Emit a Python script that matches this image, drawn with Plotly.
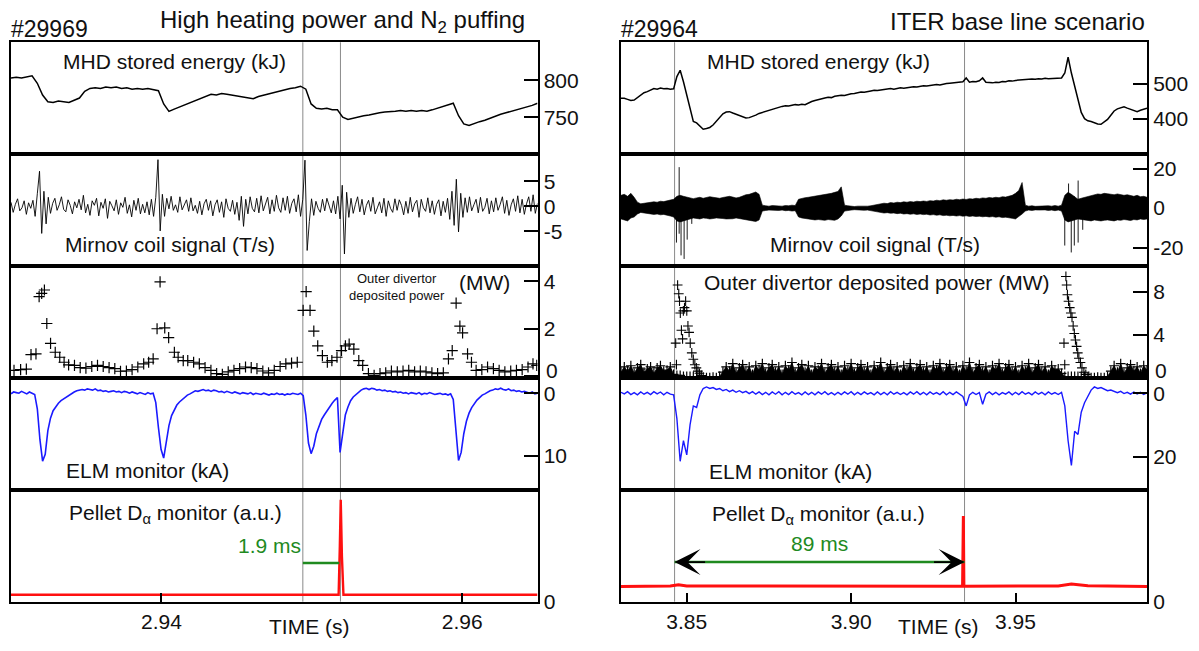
import numpy as np
import plotly.graph_objects as go

W, H = 1199, 651
FONT = "Liberation Sans, Arial, sans-serif"
GREEN = "#1f8a1f"
BLUE = "#1a1aff"
RED = "#ff1010"

# ---------------- data : shot #29969 (left) ----------------
left_range = [2.930, 2.965]
left_marks = [2.9494, 2.9519]          # ELM-triggering / pellet times
left_ticks = [2.94, 2.96]

# MHD stored energy (kJ), sampled every 0.35 ms from 2.930 s
l_wmhd = [803, 804, 803, 805, 806, 796, 780, 771, 770, 772,
          771, 770, 773, 776, 785, 789, 790, 789, 791, 790,
          791, 789, 790, 788, 789, 788, 789, 787, 786, 768,
          758, 761, 764, 766, 769, 772, 775, 778, 781, 780,
          782, 781, 780, 779, 777, 776, 775, 778, 780, 782,
          783, 786, 787, 789, 790, 792, 788, 768, 762, 761,
          762, 760, 760, 750, 747, 749, 751, 752, 753, 755,
          756, 757, 757, 758, 759, 758, 759, 758, 759, 758,
          760, 762, 764, 767, 769, 752, 741, 739, 742, 744,
          746, 749, 751, 754, 756, 758, 760, 761, 763, 766,
          769]

# Mirnov coil signal (T/s), sampled every 0.146 ms
l_mirnov = [0.8, -1.2, 0.4, 1.5, -0.9, -0.3, 1.1, -1.6, 0.7, -0.4,
            1.2, -2.0, 2.5, 7.0, -5.4, 3.0, -3.5, 1.8, -1.4, 0.6,
            1.6, -0.8, 0.3, 1.9, -0.6, -1.1, 1.3, 0.2, -1.5, 0.9,
            -0.3, 1.4, -0.7, 2.2, -1.3, 0.4, -1.8, 1.1, 0.2, 1.6,
            -1.9, 0.8, -0.4, 1.5, -2.4, 1.0, 0.1, -0.9, 1.3, -1.6,
            0.7, -0.2, 1.8, -1.4, 0.3, -2.1, 1.2, -0.8, 1.6, -1.5,
            0.4, -1.3, 0.9, -1.7, 1.4, -2.0, 1.8, 9.3, -4.9, 2.4,
            -2.0, 1.6, -0.5, 2.0, -0.8, 0.3, -1.2, 1.9, -0.7, 0.5,
            1.3, -1.0, 1.7, -0.9, 0.2, -1.4, 1.0, -1.7, 0.5, 1.4,
            -0.8, 1.1, -1.9, 0.3, 1.3, -1.2, 0.9, -2.2, 1.5, -0.4,
            -1.0, 1.2, -1.6, 0.8, -2.8, 2.0, -4.0, 1.4, -1.5, 1.9,
            -0.4, -1.1, 1.6, -1.3, 2.1, -0.9, 0.5, 1.8, -1.5, 1.3,
            -1.0, 2.2, -0.3, -1.2, 1.7, -0.8, 2.0, -1.4, 0.6, 1.5,
            -1.1, 2.3, -2.0, 1.4, 9.2, -8.8, -3.0, 1.5, -1.8, 1.0,
            -0.4, -1.2, 1.4, -0.9, 1.6, 0.3, -1.3, 1.1, -1.5, 2.0,
            -2.5, 4.2, -9.5, 2.8, -2.2, 1.6, -1.4, 0.4, 1.9, -1.1,
            1.4, -1.7, 0.2, 1.2, -1.0, 1.8, -1.5, -0.3, 0.9, -1.3,
            1.6, -2.0, 1.1, -0.4, -1.2, 1.5, -0.8, 1.3, 0.2, -1.7,
            1.0, -1.4, 1.8, -1.1, 0.5, 1.2, -2.2, 1.4, -0.3, -1.0,
            1.7, -1.3, 1.1, -1.6, 0.4, 1.3, -1.9, 1.0, -1.2, 1.6,
            -2.6, 3.0, -3.8, 5.4, -5.1, 2.6, -2.2, 1.7, -1.2, 1.9,
            -0.9, 0.3, 1.4, -1.3, 1.8, -1.0, -0.2, 1.6, -1.5, 1.1,
            -1.1, 1.7, -0.8, 0.4, 1.9, -1.4, 1.2, -1.8, 0.3, 1.5,
            -1.0, 2.1, -1.3, 1.4, -1.6, 0.5, 1.9, -1.0, 2.3, -1.4, 0.6]

# Outer divertor deposited power (MW): (time s, value)
l_power = [(2.93020, 0.25), (2.93064, 0.28), (2.93102, 0.30), (2.93133, 0.91),
           (2.93166, 0.94), (2.93187, 3.35), (2.93204, 3.49), (2.93222, 3.63),
           (2.93238, 2.22), (2.93263, 1.38), (2.93294, 1.01), (2.93324, 0.80),
           (2.93353, 0.59), (2.93383, 0.48), (2.93422, 0.46), (2.93460, 0.36),
           (2.93498, 0.34), (2.93537, 0.41), (2.93575, 0.46), (2.93613, 0.41),
           (2.93652, 0.36), (2.93690, 0.32), (2.93728, 0.21), (2.93767, 0.22),
           (2.93805, 0.28), (2.93843, 0.39), (2.93882, 0.52), (2.93915, 0.59),
           (2.93945, 0.73), (2.93971, 2.00), (2.93991, 3.97), (2.94022, 2.04),
           (2.94048, 1.63), (2.94086, 1.01), (2.94111, 0.80), (2.94145, 0.66),
           (2.94175, 0.66), (2.94214, 0.59), (2.94252, 0.52), (2.94290, 0.36),
           (2.94329, 0.25), (2.94367, 0.11), (2.94405, 0.08), (2.94444, 0.18),
           (2.94482, 0.25), (2.94520, 0.32), (2.94559, 0.39), (2.94597, 0.36),
           (2.94635, 0.32), (2.94674, 0.22), (2.94712, 0.14), (2.94750, 0.25),
           (2.94789, 0.41), (2.94827, 0.52), (2.94865, 0.55), (2.94903, 0.59),
           (2.94942, 2.77), (2.94962, 3.56), (2.94988, 2.77), (2.95013, 1.90),
           (2.95039, 1.28), (2.95070, 0.87), (2.95103, 0.59), (2.95133, 0.66),
           (2.95167, 0.80), (2.95197, 1.08), (2.95223, 1.28), (2.95248, 1.35),
           (2.95279, 1.14), (2.95312, 0.66), (2.95338, 0.46), (2.95376, 0.11),
           (2.95414, 0.04), (2.95453, 0.11), (2.95491, 0.14), (2.95529, 0.22),
           (2.95568, 0.18), (2.95606, 0.22), (2.95644, 0.25), (2.95683, 0.18),
           (2.95721, 0.22), (2.95759, 0.18), (2.95798, 0.14), (2.95836, 0.11),
           (2.95874, 0.14), (2.95908, 0.73), (2.95933, 1.08), (2.95959, 3.08),
           (2.95984, 2.11), (2.96002, 1.83), (2.96035, 0.94), (2.96061, 0.59),
           (2.96092, 0.25), (2.96130, 0.28), (2.96168, 0.39), (2.96207, 0.32),
           (2.96245, 0.25), (2.96283, 0.18), (2.96322, 0.22), (2.96360, 0.25),
           (2.96398, 0.28), (2.96437, 0.39), (2.96470, 0.52), (2.96495, 0.46)]

# ELM monitor (kA), sampled every 0.175 ms
l_elm = [0.1, -0.2, -0.1, 0.0, -0.3, -0.1, 0.1, -0.2, 0.0, 0.2,
         2.5, 7.5, 10.9, 9.8, 6.0, 4.0, 2.8, 2.1, 1.6, 1.2,
         0.9, 0.6, 0.3, 0.1, -0.2, -0.4, -0.5, -0.6, -0.5, -0.7,
         -0.6, -0.5, -0.7, -0.4, -0.5, -0.3, -0.4, -0.2, -0.3, -0.4,
         -0.2, -0.3, -0.1, -0.3, -0.2, 0.0, -0.2, -0.1, 0.1, -0.1,
         0.0, 0.2, -0.1, 0.1, 0.0, 1.5, 5.5, 9.0, 10.4, 8.0,
         5.2, 3.6, 2.6, 1.9, 1.4, 1.0, 0.6, 0.3, 0.1, -0.2,
         -0.4, -0.3, -0.5, -0.6, -0.4, -0.5, -0.3, -0.5, -0.4, -0.2,
         -0.3, -0.1, -0.3, -0.2, 0.0, -0.2, -0.1, 0.1, -0.1, 0.0,
         0.1, -0.1, 0.2, 0.0, 0.1, 0.2, 0.0, 0.1, 0.3, 0.1,
         0.2, 0.0, 0.2, 0.1, 0.3, 0.1, 0.2, 0.0, 0.1, 0.2,
         0.0, 0.4, 3.5, 8.0, 9.7, 8.5, 6.5, 5.2, 4.2, 3.5,
         2.8, 2.2, 1.6, 1.1, 0.7, 9.5, 6.5, 3.5, 2.2, 1.2,
         0.6, 0.2, -0.2, -0.5, -0.7, -0.8, -0.6, -0.8, -0.7, -0.5,
         -0.6, -0.4, -0.5, -0.3, -0.4, -0.2, -0.3, -0.1, -0.2, 0.0,
         -0.1, 0.1, -0.1, 0.0, 0.1, -0.1, 0.2, 0.0, 0.1, -0.1,
         0.0, 0.2, 0.1, 0.0, 0.2, 0.1, 0.3, 0.1, 1.0, 6.0,
         10.8, 9.5, 6.5, 4.5, 3.2, 2.3, 1.6, 1.1, 0.7, 0.3,
         0.1, -0.2, -0.4, -0.5, -0.7, -0.6, -0.8, -0.6, -0.5, -0.7,
         -0.4, -0.5, -0.3, -0.4, -0.2, -0.3, -0.1, 0.0, -0.2, 0.1, 0.0]

# Pellet D-alpha monitor (a.u.)
l_pellet_t = [2.930, 2.95178, 2.95186, 2.95192, 2.95200, 2.95210, 2.965]
l_pellet_v = [0.062, 0.062, 0.50, 0.91, 0.40, 0.062, 0.062]
l_gap = [2.9494, 2.95182]     # 1.9 ms delay bar
l_gap_level = 0.345

# ---------------- data : shot #29964 (right) ----------------
right_range = [3.83, 3.99]
right_marks = [3.8463, 3.9345]
right_ticks = [3.85, 3.90, 3.95]

# MHD stored energy (kJ), every 1 ms from 3.830 s
r_wmhd = [458, 458, 455, 452, 453, 460, 468, 474, 477, 482,
          486, 484, 487, 485, 486, 484, 485, 520, 538, 505,
          465, 430, 392, 388, 378, 370, 372, 375, 382, 392,
          405, 414, 419, 420, 416, 412, 410, 405, 402, 403,
          406, 410, 415, 418, 420, 424, 428, 430, 433, 435,
          437, 436, 438, 440, 439, 441, 440, 445, 449, 452,
          455, 457, 459, 461, 460, 464, 466, 467, 466, 469,
          471, 472, 474, 476, 475, 478, 479, 481, 480, 482,
          484, 485, 486, 484, 487, 488, 487, 489, 490, 491,
          490, 492, 494, 493, 495, 496, 497, 496, 499, 500,
          501, 502, 504, 503, 505, 516, 504, 506, 505, 508,
          516, 504, 503, 502, 504, 503, 506, 505, 508, 507,
          509, 510, 509, 512, 511, 513, 512, 514, 513, 515,
          514, 515, 514, 515, 516, 530, 575, 530, 490, 455,
          418, 400, 394, 392, 388, 385, 384, 390, 398, 410,
          422, 428, 432, 434, 430, 426, 422, 420, 424, 427,
          430]

# Mirnov signal envelope (T/s), every 1 ms
r_mir_up = [6.5, 7.0, 6.0, 7.5, 5.5, 3.0, 2.2, 2.5, 2.8, 3.0,
            3.2, 3.0, 3.5, 3.3, 3.8, 4.0, 4.5, 6.0, 6.5, 6.0,
            5.5, 5.0, 4.8, 5.2, 5.5, 5.0, 5.3, 5.8, 5.5, 5.2,
            5.0, 5.4, 5.8, 6.0, 5.6, 5.2, 5.5, 6.2, 6.8, 7.0,
            7.5, 8.2, 7.0, 1.5, 1.2, 1.0, 1.3, 1.1, 1.2, 1.0,
            1.3, 1.2, 1.5, 1.3, 4.5, 5.0, 5.3, 5.5, 5.8, 6.0,
            6.2, 6.5, 6.8, 7.0, 7.5, 8.0, 8.5, 10.8, 1.5, 1.2,
            1.0, 0.8, 1.0, 0.9, 1.1, 1.0, 1.2, 1.5, 2.0, 2.2,
            2.5, 2.3, 2.8, 2.6, 3.0, 2.8, 3.2, 3.0, 3.3, 3.1,
            3.5, 3.3, 3.6, 3.4, 3.8, 3.6, 4.0, 3.8, 4.2, 4.0,
            4.3, 4.1, 4.5, 4.3, 4.6, 4.4, 4.8, 4.6, 5.0, 4.8,
            5.2, 5.0, 5.4, 5.2, 5.5, 5.3, 5.8, 5.6, 6.0, 6.5,
            7.5, 9.0, 13.0, 1.5, 1.0, 1.2, 0.9, 1.0, 1.1, 0.9,
            1.2, 1.0, 1.3, 1.0, 1.5, 6.5, 8.0, 7.0, 5.5, 4.5,
            5.0, 5.5, 6.0, 6.5, 7.0, 7.2, 7.0, 7.5, 7.3, 7.0,
            6.8, 7.2, 7.0, 6.5, 6.8, 6.2, 6.0, 6.5, 5.8, 6.0,
            5.5]
r_mir_lo = [-5.5, -6.0, -6.5, -5.0, -4.5, -3.0, -2.2, -2.5, -2.8, -3.0,
            -3.2, -3.0, -3.4, -3.2, -3.6, -4.0, -4.5, -6.5, -7.0, -6.5,
            -6.0, -5.5, -5.0, -5.2, -5.5, -5.0, -5.2, -5.5, -5.3, -5.0,
            -5.0, -5.3, -5.5, -5.6, -5.4, -5.0, -5.3, -5.8, -6.0, -6.2,
            -6.5, -6.8, -6.0, -1.5, -1.2, -1.0, -1.3, -1.1, -1.2, -1.0,
            -1.3, -1.2, -1.5, -1.3, -4.5, -5.0, -5.3, -5.5, -5.8, -6.0,
            -5.8, -6.0, -6.2, -5.8, -6.0, -6.2, -5.5, -4.0, -1.5, -1.2,
            -1.0, -0.8, -1.0, -0.9, -1.1, -1.0, -1.2, -1.5, -2.0, -2.2,
            -2.5, -2.3, -2.6, -2.5, -2.8, -2.6, -3.0, -2.8, -3.1, -2.9,
            -3.2, -3.0, -3.3, -3.1, -3.5, -3.3, -3.6, -3.4, -3.8, -3.6,
            -3.9, -3.7, -4.0, -3.8, -4.1, -3.9, -4.2, -4.0, -4.3, -4.1,
            -4.4, -4.2, -4.5, -4.3, -4.6, -4.4, -4.8, -4.6, -5.0, -5.2,
            -5.5, -4.5, -3.0, -1.5, -1.0, -1.2, -0.9, -1.0, -1.1, -0.9,
            -1.2, -1.0, -1.3, -1.0, -1.5, -6.0, -7.0, -6.5, -6.0, -5.5,
            -5.5, -6.0, -6.2, -6.5, -6.0, -6.3, -6.5, -6.2, -6.0, -6.3,
            -6.5, -6.0, -6.2, -5.8, -6.0, -6.3, -5.8, -6.0, -5.5, -5.8,
            -5.5]
# individual Mirnov spikes: (time, top, bottom)
r_mir_spikes = [(3.84687, 3.0, -17.5), (3.84769, 20.8, -13.0), (3.84827, 4.0, -24.0),
                (3.84920, 3.0, -25.8), (3.85013, 3.0, -16.0), (3.85153, 3.0, -8.0),
                (3.96498, 4.0, -19.0), (3.96614, 12.5, -5.0), (3.96696, 5.0, -22.5),
                (3.96789, 6.0, -19.0), (3.96905, 14.0, -17.5), (3.97045, 4.0, -11.0)]

# Outer divertor deposited power (MW), every 1 ms
r_power = [0.5, 1.0, 0.6, 1.1, 0.4, 0.9, 1.2, 0.5, 0.8, 1.0,
           0.4, 0.9, 1.1, 0.6, 0.7, 1.0, 0.3, 0.2, 0.2, 0.1,
           0.1, 0.1, 0.1, 0.1, 0.1, 0.05, 0.0, 0.0, 0.05, 0.0,
           0.1, 0.5, 1.0, 0.6, 1.3, 0.4, 0.9, 1.2, 0.5, 1.0,
           0.3, 1.1, 0.7, 1.3, 0.4, 0.9, 1.2, 0.5, 1.0, 0.3,
           1.1, 0.7, 1.4, 0.4, 0.9, 1.2, 0.5, 1.1, 0.3, 1.0,
           0.7, 1.3, 0.4, 0.9, 1.2, 0.5, 1.0, 0.3, 1.1, 0.6,
           1.3, 0.4, 0.9, 1.2, 0.5, 1.0, 0.3, 1.1, 0.7, 1.4,
           0.4, 0.9, 1.2, 0.5, 1.0, 0.3, 1.1, 0.6, 1.3, 0.4,
           0.9, 1.2, 0.5, 1.0, 0.3, 1.1, 0.7, 1.3, 0.4, 0.9,
           1.2, 0.5, 1.0, 0.3, 1.1, 0.6, 1.4, 0.4, 0.9, 1.2,
           0.5, 1.0, 0.3, 1.1, 0.7, 1.3, 0.4, 0.9, 1.2, 0.5,
           1.0, 0.3, 1.1, 0.6, 1.3, 0.4, 0.9, 1.2, 0.5, 1.0,
           0.3, 1.1, 0.7, 0.8, 0.4, 0.1, 0.1, 0.1, 0.1, 0.1,
           0.1, 0.1, 0.05, 0.0, 0.0, 0.05, 0.0, 0.0, 0.1, 0.6,
           1.1, 0.5, 1.3, 0.4, 0.9, 1.2, 0.6, 1.0, 0.4, 1.1,
           0.7]
# power bursts after the large ELMs: (time, value)
r_power_burst = [(3.84664, 3.2), (3.84687, 1.2), (3.84722, 8.6), (3.84757, 7.8),
                 (3.84780, 7.1), (3.84804, 6.0), (3.84838, 4.4), (3.84873, 3.6),
                 (3.84897, 6.2), (3.84932, 6.5), (3.84966, 7.1), (3.85001, 6.2),
                 (3.85036, 4.8), (3.85071, 4.2), (3.85106, 3.2), (3.85153, 2.3),
                 (3.85199, 1.7), (3.85246, 1.2), (3.85292, 0.9), (3.85339, 0.6),
                 (3.85385, 0.4), (3.85444, 0.2),
                 (3.96475, 3.2), (3.96498, 1.2), (3.96533, 9.4), (3.96556, 8.6),
                 (3.96579, 7.7), (3.96614, 7.1), (3.96649, 6.5), (3.96684, 6.0),
                 (3.96719, 5.6), (3.96754, 4.8), (3.96789, 4.1), (3.96824, 3.5),
                 (3.96859, 2.9), (3.96893, 2.3), (3.96928, 1.8), (3.96975, 1.4),
                 (3.97021, 0.9), (3.97080, 0.5), (3.97138, 0.3), (3.97231, 0.1)]

# ELM monitor (kA), every 1 ms
r_elm = [-0.3, 0.2, -0.5, 0.4, -0.2, 0.5, -0.4, 0.3, -0.3, 0.4,
         -0.5, 0.2, -0.4, 0.5, -0.3, 0.3, 0.5, 8.0, 21.5, 15.0,
         19.5, 10.0, 4.0, 4.5, 0.5, -1.5, -2.0, -1.5, -1.8, -1.2,
         -1.5, -0.8, -1.2, -0.5, -1.0, -0.3, -0.8, -0.2, -0.6, 0.1,
         -0.5, 0.3, -0.4, 0.4, -0.3, 0.5, -0.4, 0.3, -0.5, 0.5,
         -0.3, 0.4, -0.5, 0.3, -0.2, 0.5, -0.4, 0.4, -0.3, 0.5,
         -0.4, 0.3, -0.5, 0.4, -0.2, 0.5, -0.3, 0.4, -0.4, 0.3,
         -0.5, 0.5, -0.3, 0.4, -0.4, 0.3, -0.2, 0.5, -0.4, 0.4,
         -0.3, 0.5, -0.5, 0.3, -0.3, 0.4, -0.2, 0.5, -0.4, 0.3,
         -0.5, 0.4, -0.3, 0.5, -0.4, 0.3, -0.2, 0.4, -0.5, 0.5,
         -0.3, 0.4, -0.4, 0.3, 1.0, 4.0, 0.5, -0.3, 0.4, -0.2,
         3.5, 0.3, -0.4, 0.4, -0.3, 0.5, -0.2, 0.3, -0.4, 0.5,
         -0.3, 0.4, -0.5, 0.3, -0.2, 0.5, -0.4, 0.3, -0.3, 0.5,
         -0.4, 0.3, -0.2, 0.4, -0.3, 4.0, 15.0, 22.8, 12.0, 13.0,
         6.0, 3.0, 0.8, -1.0, -2.0, -1.5, -1.8, -1.2, -0.8, -1.0,
         -0.5, -0.2, -0.6, 0.1, -0.3, 0.3, -0.4, 0.2, -0.3, 0.4,
         -0.2]

r_pellet_t = [3.830, 3.845, 3.8475, 3.850, 3.9339, 3.93414, 3.9343, 3.963, 3.967, 3.972, 3.990]
r_pellet_v = [0.135, 0.140, 0.152, 0.140, 0.138, 0.765, 0.138, 0.140, 0.158, 0.142, 0.136]
r_gap = [3.8463, 3.9345]      # 89 ms
r_gap_level = 0.354

# axis ranges / ticks
y_ranges = [
    [[700, 851.5], [-11.9, 10.4], [-0.07, 4.64], [15.5, -2.46], [0, 1]],
    [[299, 617.6], [-29.4, 27.4], [-0.03, 10.37], [30.5, -4.85], [0, 1]],
]
y_ticks = [
    [[750, 800], [-5, 0, 5], [0, 2, 4], [0, 10], [0]],
    [[400, 500], [-20, 0, 20], [0, 4, 8], [0, 20], [0]],
]

# ---------------- figure ----------------
l_t_wmhd = np.linspace(left_range[0], left_range[1], len(l_wmhd))
l_t_mir = np.linspace(left_range[0], left_range[1], len(l_mirnov))
l_t_elm = np.linspace(left_range[0], left_range[1], len(l_elm))
r_t = np.linspace(right_range[0], right_range[1], len(r_wmhd))

def ax(n, kind):
    return kind if n == 1 else f"{kind}{n}"

fig = go.Figure()

def add(n, **kw):
    fig.add_trace(go.Scatter(xaxis=ax(n, "x"), yaxis=ax(n, "y"), showlegend=False,
                             hoverinfo="skip", **kw))

# left column
add(1, x=l_t_wmhd, y=l_wmhd, mode="lines", line=dict(color="black", width=1.5))
add(2, x=l_t_mir, y=l_mirnov, mode="lines", line=dict(color="black", width=0.9))
add(3, x=[p[0] for p in l_power], y=[p[1] for p in l_power], mode="markers",
    marker=dict(symbol="cross-thin", size=8, line=dict(color="black", width=1.2)))
add(4, x=l_t_elm, y=l_elm, mode="lines", line=dict(color=BLUE, width=1.6))
add(5, x=l_pellet_t, y=l_pellet_v, mode="lines", line=dict(color=RED, width=2.4))

# right column
add(6, x=r_t, y=r_wmhd, mode="lines", line=dict(color="black", width=1.5))
add(7, x=list(r_t) + list(r_t[::-1]), y=r_mir_up + r_mir_lo[::-1], mode="lines",
    fill="toself", fillcolor="black", line=dict(color="black", width=0.6))
sx, sy = [], []
for t, top, bot in r_mir_spikes:
    sx += [t, t, None]
    sy += [top, bot, None]
add(7, x=sx, y=sy, mode="lines", line=dict(color="black", width=0.9))
add(8, x=r_t, y=r_power, mode="lines", fill="tozeroy", fillcolor="black",
    line=dict(color="black", width=0.8))
add(8, x=r_t, y=r_power, mode="markers",
    marker=dict(symbol="cross-thin", size=7, line=dict(color="black", width=1.2)))
add(8, x=[p[0] for p in r_power_burst], y=[p[1] for p in r_power_burst], mode="markers",
    marker=dict(symbol="cross-thin", size=7, line=dict(color="black", width=1.1)))
add(9, x=r_t, y=r_elm, mode="lines", line=dict(color=BLUE, width=1.4))
add(10, x=r_pellet_t, y=r_pellet_v, mode="lines", line=dict(color=RED, width=3))

# layout / axes
col_dom = [[11 / W, 537.5 / W], [621 / W, 1147 / W]]
row_px = [43, 156.8, 270.6, 384.4, 498.2, 612]
row_dom = [[1 - row_px[p + 1] / H, 1 - row_px[p] / H] for p in range(5)]
x_ranges = [left_range, right_range]
x_ticks = [left_ticks, right_ticks]

layout = dict(width=W, height=H, margin=dict(l=0, r=0, t=0, b=0),
              paper_bgcolor="white", plot_bgcolor="rgba(0,0,0,0)",
              font=dict(family=FONT, size=20, color="#111"), showlegend=False)
for c in range(2):
    for p in range(5):
        n = c * 5 + p + 1
        bottom = (p == 4)
        layout[ax(n, "xaxis")] = dict(
            domain=col_dom[c], range=x_ranges[c], anchor=ax(n, "y"),
            showline=True, mirror=True, linecolor="black", linewidth=2,
            showgrid=False, zeroline=False,
            ticks="inside" if bottom else "", ticklen=9, tickwidth=2, tickcolor="black",
            showticklabels=bottom, tickvals=x_ticks[c],
            ticktext=[f"{v:.2f}" for v in x_ticks[c]], tickfont=dict(size=21))
        tv = y_ticks[c][p]
        # the zero label of the power panel is placed separately (see below)
        tt = ["" if (p == 2 and v == 0) else str(v) for v in tv]
        layout[ax(n, "yaxis")] = dict(
            domain=row_dom[p], range=y_ranges[c][p], anchor=ax(n, "x"), side="right",
            showline=True, mirror=True, linecolor="black", linewidth=2,
            showgrid=False, zeroline=False, ticks="inside",
            ticklen=0 if p == 4 else 14, tickwidth=2, tickcolor="black",
            tickvals=tv, ticktext=tt, tickfont=dict(size=21))
fig.update_layout(**layout)

# vertical event lines
for xr, marks in (("x", left_marks), ("x6", right_marks)):
    for m in marks:
        fig.add_shape(type="line", xref=xr, yref="paper", x0=m, x1=m,
                      y0=1 - 612 / H, y1=1 - 43 / H, layer="below",
                      line=dict(color="#8a8a8a", width=1))

# delay bars
fig.add_shape(type="line", xref="x5", yref="y5", x0=l_gap[0], x1=l_gap[1],
              y0=l_gap_level, y1=l_gap_level, line=dict(color=GREEN, width=2.5))
fig.add_shape(type="line", xref="x10", yref="y10", x0=r_gap[0], x1=r_gap[1],
              y0=r_gap_level, y1=r_gap_level, line=dict(color=GREEN, width=2.5))

ann = []
for tip, off in ((r_gap[1], -32), (r_gap[0], 32)):
    ann.append(dict(x=tip, y=r_gap_level, xref="x10", yref="y10", ax=off, ay=0,
                    showarrow=True, arrowhead=3, arrowsize=2.4, arrowwidth=1.8,
                    arrowcolor="black", text=""))
ann.append(dict(x=l_gap[0], y=0.50, xref="x5", yref="y5", text="1.9 ms",
                showarrow=False, xanchor="right", yanchor="middle",
                font=dict(size=21, color=GREEN)))
ann.append(dict(x=(r_gap[0] + r_gap[1]) / 2, y=0.52, xref="x10", yref="y10", text="89 ms",
                showarrow=False, xanchor="center", yanchor="middle",
                font=dict(size=21, color=GREEN)))

def txt(s, x, y, size=21, xanchor="center", color="#111"):
    return dict(text=s, x=x / W, y=1 - y / H, xref="paper", yref="paper",
                showarrow=False, xanchor=xanchor, yanchor="middle",
                font=dict(size=size, color=color))

ann += [
    txt("#29969", 9, 30, size=23, xanchor="left"),
    txt("High heating power and N<sub>2</sub> puffing", 342, 22, size=24),
    txt("#29964", 619, 30, size=23, xanchor="left"),
    txt("ITER base line scenario", 1017, 22, size=24),
    txt("MHD stored energy (kJ)", 174, 63),
    txt("MHD stored energy (kJ)", 818, 63),
    txt("Mirnov coil signal (T/s)", 170, 249),
    txt("Mirnov coil signal (T/s)", 875, 249),
    txt("Outer divertor<br>deposited power", 397, 292, size=13),
    txt("(MW)", 484, 287),
    txt("Outer divertor deposited power (MW)", 876, 287),
    txt("0", 544, 377, xanchor="left"),
    txt("0", 1153, 377, xanchor="left"),
    txt("ELM monitor (kA)", 147, 479),
    txt("ELM monitor (kA)", 791, 480),
    txt("Pellet D<sub>α</sub> monitor (a.u.)", 175, 523),
    txt("Pellet D<sub>α</sub> monitor (a.u.)", 818, 524),
    txt("TIME (s)", 309, 637),
    txt("TIME (s)", 938, 637),
]
fig.update_layout(annotations=ann)

fig.write_html("out.html")
